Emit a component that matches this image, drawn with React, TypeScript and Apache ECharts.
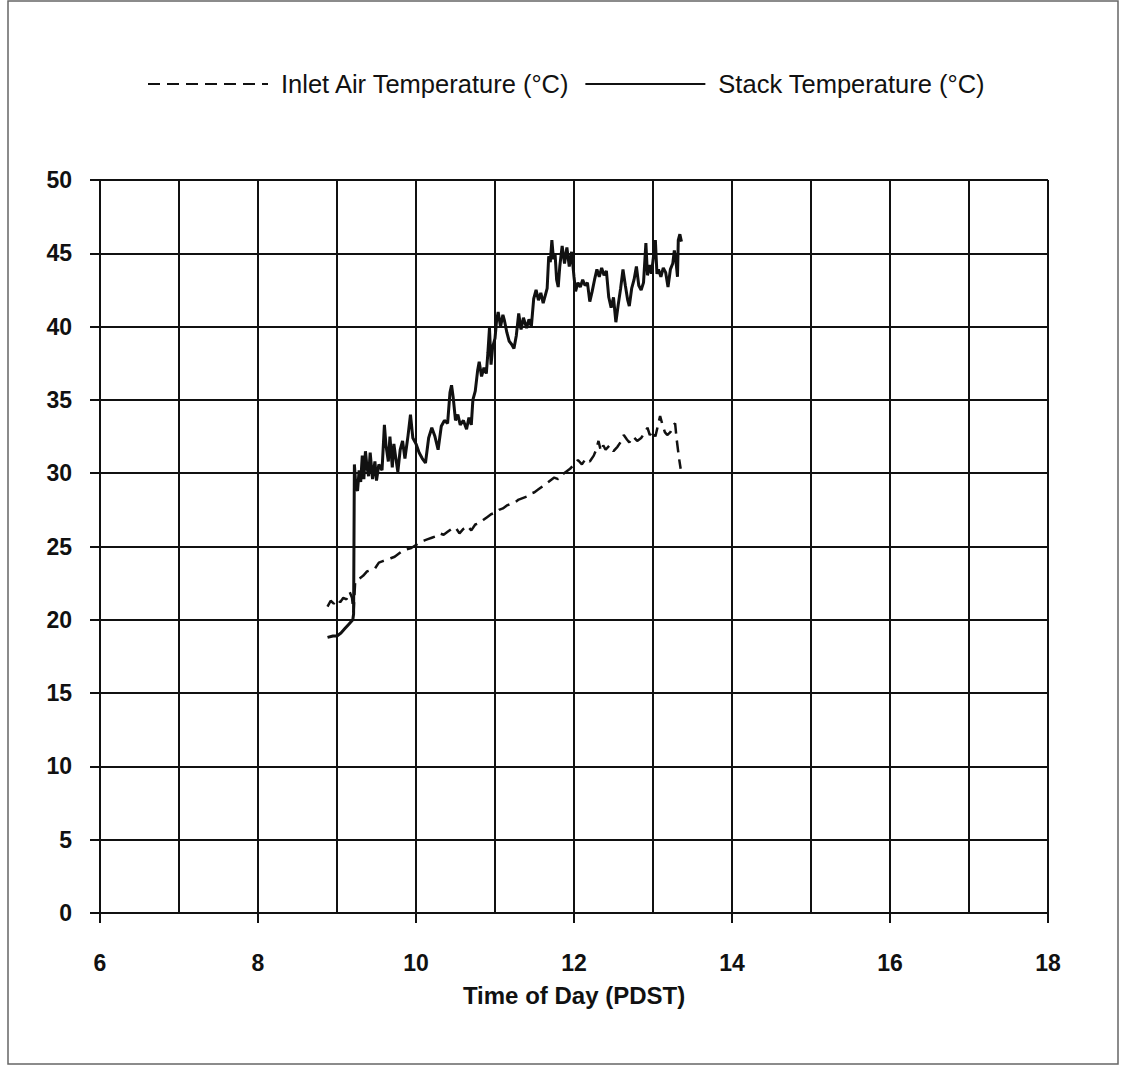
import React, { useEffect, useRef } from "react";
import * as echarts from "echarts";

const legendNames = ["Inlet Air Temperature (°C)", "Stack Temperature (°C)"];
const xAxisTitle = "Time of Day (PDST)";

const stackHours = [
  8.88, 8.95, 9.0, 9.05, 9.1, 9.15, 9.2, 9.21, 9.22, 9.24, 9.26, 9.28, 9.3, 9.32, 9.34, 9.36, 9.38, 9.4, 9.42, 9.45,
  9.48, 9.5, 9.53, 9.57, 9.6, 9.62, 9.65, 9.67, 9.7, 9.72, 9.74, 9.77, 9.8, 9.83, 9.86, 9.9, 9.93, 9.96, 10.0, 10.04,
  10.08, 10.12, 10.16, 10.2, 10.24, 10.28, 10.32, 10.36, 10.4, 10.43, 10.45, 10.47, 10.5, 10.53, 10.56, 10.6, 10.64,
  10.67, 10.7, 10.72, 10.75, 10.78, 10.8, 10.83, 10.86, 10.89, 10.91, 10.93, 10.95, 10.97, 11.0, 11.02, 11.04, 11.07,
  11.1, 11.12, 11.15, 11.18, 11.21, 11.24, 11.27, 11.3, 11.33, 11.36, 11.4, 11.43, 11.46, 11.49, 11.52, 11.55, 11.58,
  11.61, 11.64, 11.66, 11.68, 11.7, 11.72, 11.74, 11.76, 11.78, 11.8, 11.82, 11.85, 11.88, 11.91, 11.94, 11.97, 12.0,
  12.02, 12.05, 12.08, 12.11, 12.14, 12.17, 12.2, 12.23, 12.26, 12.29, 12.32, 12.35, 12.38, 12.41, 12.44, 12.47, 12.5,
  12.53, 12.56, 12.59, 12.62, 12.65, 12.68, 12.7, 12.73, 12.76, 12.79, 12.82, 12.85, 12.88, 12.91, 12.93, 12.96, 12.98,
  13.0, 13.03, 13.05, 13.07, 13.1, 13.13, 13.16, 13.19, 13.22, 13.25, 13.27, 13.29, 13.31, 13.32, 13.34, 13.36,
];
const stackValues = [
  18.8, 18.9, 18.9, 19.1, 19.4, 19.7, 20.0, 20.4, 30.6, 29.0, 28.8, 30.2, 29.4, 31.2, 29.6, 31.5, 30.4, 29.8, 31.4, 29.6,
  30.8, 29.5, 30.6, 30.2, 33.3, 31.9, 30.8, 32.5, 30.4, 32.0, 31.2, 30.1, 31.6, 32.2, 31.0, 32.6, 34.0, 32.4, 32.0, 31.4,
  31.0, 30.7, 32.4, 33.1, 32.5, 31.6, 33.2, 33.6, 33.4, 35.5, 36.0, 35.2, 33.6, 34.0, 33.3, 33.6, 33.0,
  33.8, 33.3, 35.0, 35.6, 37.0, 37.6, 36.6, 37.2, 36.8, 38.2, 39.9, 37.4, 38.6, 39.2, 40.4, 41.0, 40.0,
  40.8, 40.4, 39.6, 39.0, 38.8, 38.5, 39.4, 40.9, 39.8, 40.6, 39.9, 40.5, 40.0, 41.9, 42.5, 41.8, 42.3,
  41.6, 42.2, 42.6, 44.8, 44.4, 45.9, 44.6, 45.0, 43.2, 42.7, 44.1, 45.5, 44.3, 45.4, 44.1, 45.1, 43.4,
  42.4, 43.0, 42.7, 43.2, 42.8, 43.0, 41.7, 42.4, 43.2, 43.9, 43.4, 44.0, 43.5, 43.8, 42.0, 41.3, 42.0,
  40.3, 41.5, 42.6, 43.9, 42.8, 41.8, 41.4, 42.6, 43.2, 44.1, 42.8, 42.5, 43.0, 45.7, 43.5, 44.2, 43.6,
  44.5, 45.9, 43.6, 43.9, 43.4, 44.0, 43.7, 42.7, 43.9, 44.3, 45.2, 44.5, 43.4, 45.9, 46.3, 45.8,
];

const inletHours = [
  8.88, 8.92, 8.96, 9.0, 9.04, 9.08, 9.12, 9.16, 9.19, 9.21, 9.23, 9.28, 9.33, 9.38, 9.43, 9.48, 9.53, 9.58, 9.63, 9.68,
  9.73, 9.78, 9.83, 9.88, 9.94, 10.0, 10.05, 10.1, 10.15, 10.2, 10.25, 10.3, 10.35, 10.4, 10.45, 10.5, 10.55, 10.6,
  10.65, 10.7, 10.75, 10.8, 10.85, 10.9, 10.95, 11.0, 11.05, 11.1, 11.15, 11.2, 11.25, 11.3, 11.35, 11.4, 11.45, 11.5,
  11.55, 11.6, 11.65, 11.7, 11.75, 11.8, 11.85, 11.9, 11.95, 12.0, 12.05, 12.1, 12.15, 12.2, 12.25, 12.28, 12.31,
  12.34, 12.37, 12.4, 12.45, 12.5, 12.55, 12.6, 12.63, 12.67, 12.7, 12.75, 12.8, 12.85, 12.9, 12.93, 12.96, 13.0,
  13.03, 13.06, 13.09, 13.12, 13.15, 13.18, 13.22, 13.26, 13.28, 13.3, 13.33, 13.35,
];
const inletValues = [
  20.9, 21.3, 21.1, 21.4, 21.2, 21.5, 21.4, 21.9, 21.5, 20.5, 22.6, 22.8, 23.0, 23.3, 23.4, 23.5, 23.9, 24.0, 24.1, 24.2,
  24.3, 24.5, 24.7, 24.8, 24.9, 25.1, 25.3, 25.4, 25.5, 25.6, 25.7, 25.9, 25.8, 26.0, 26.2, 26.3, 25.9, 26.2,
  26.4, 26.1, 26.5, 26.6, 26.8, 27.0, 27.2, 27.3, 27.5, 27.6, 27.8, 27.9, 28.0, 28.2, 28.3, 28.4, 28.6, 28.7,
  28.9, 29.1, 29.3, 29.5, 29.7, 29.6, 29.9, 30.1, 30.3, 30.6, 30.9, 30.6, 31.0, 30.8, 31.2, 31.6, 32.2,
  31.5, 31.9, 31.6, 31.9, 31.5, 31.8, 32.2, 32.6, 32.3, 32.1, 32.5, 32.2, 32.4, 32.8, 33.1, 32.6, 32.9,
  32.5, 33.2, 33.9, 33.3, 32.8, 32.6, 32.8, 33.3, 33.4, 32.3, 31.0, 30.3,
];

const FONT = "Liberation Sans, Arial, Helvetica, sans-serif";

export default function App() {
  const ref = useRef<HTMLDivElement>(null);
  useEffect(() => {
    if (!ref.current) return;
    const chart = echarts.init(ref.current, null, { renderer: "svg" });
    const black = "#111";
    chart.setOption({
      animation: false,
      backgroundColor: "#fff",
      textStyle: { fontFamily: FONT },
      legend: {
        left: 142,
        top: 66,
        itemWidth: 120,
        itemHeight: 14,
        itemGap: 14,
        data: legendNames,
        itemStyle: { opacity: 0 },
        textStyle: { fontSize: 25.5, color: black, fontFamily: FONT, padding: [0, 0, 0, 8] },
      },
      grid: { left: 100, right: 73, top: 180, bottom: 160 },
      xAxis: {
        type: "value",
        min: 6,
        max: 18,
        interval: 2,
        name: xAxisTitle,
        nameLocation: "middle",
        nameGap: 70,
        nameTextStyle: { fontSize: 24, fontWeight: "bold", color: black, fontFamily: FONT },
        axisLine: { show: true, lineStyle: { color: black, width: 2 } },
        axisTick: { show: true, length: 10, lineStyle: { color: black, width: 2 } },
        axisLabel: { fontSize: 23, fontWeight: "bold", color: black, margin: 38, fontFamily: FONT },
        splitLine: { show: true, lineStyle: { color: black, width: 2 } },
        minorTick: { show: false, splitNumber: 2 },
        minorSplitLine: { show: true, lineStyle: { color: black, width: 2 } },
      },
      yAxis: {
        type: "value",
        min: 0,
        max: 50,
        interval: 5,
        axisLine: { show: true, lineStyle: { color: black, width: 2 } },
        axisTick: { show: true, length: 10, lineStyle: { color: black, width: 2 } },
        axisLabel: { fontSize: 23, fontWeight: "bold", color: black, margin: 28, fontFamily: FONT },
        splitLine: { show: true, lineStyle: { color: black, width: 2 } },
      },
      graphic: [
        {
          type: "rect",
          shape: { x: 8, y: 1, width: 1110, height: 1063 },
          style: { fill: "none", stroke: "#666", lineWidth: 1.5 },
          silent: true,
        },
      ],
      series: [
        {
          name: legendNames[0],
          type: "line",
          symbol: "none",
          data: inletHours.map((h, i) => [h, inletValues[i]]),
          lineStyle: { color: black, width: 2.5, type: [12, 7] },
          itemStyle: { color: black },
        },
        {
          name: legendNames[1],
          type: "line",
          symbol: "none",
          data: stackHours.map((h, i) => [h, stackValues[i]]),
          lineStyle: { color: black, width: 3, type: "solid" },
          itemStyle: { color: black },
        },
      ],
    });
    return () => chart.dispose();
  }, []);
  return (
    <div
      ref={ref}
      style={{ position: "fixed", left: 0, top: 0, width: 1121, height: 1073 }}
    />
  );
}
